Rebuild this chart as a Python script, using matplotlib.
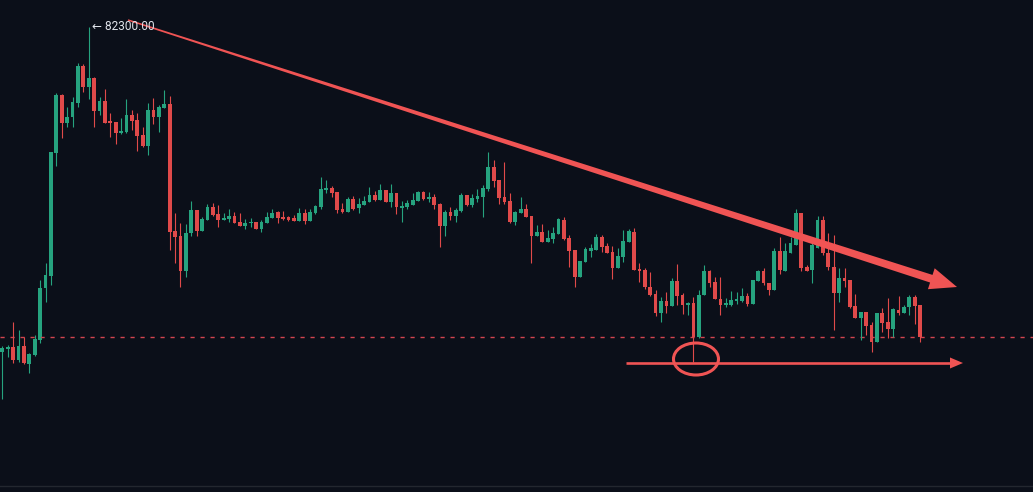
import numpy as np
import matplotlib
matplotlib.use('Agg')
import matplotlib.pyplot as plt
from matplotlib.patches import Polygon, Ellipse
from matplotlib.lines import Line2D

# OHLC (171 candles)
opens = [
    79050, 79080, 79100, 78970, 79110, 78930, 79020, 79170, 79690, 79810,
    81040, 81620, 81340, 81400, 81540, 81910, 81700, 81790, 81460, 81560,
    81360, 81350, 81240, 81250, 81420, 81370, 81220, 81110, 81470, 81400,
    81490, 81530, 80260, 80210, 79860, 80240, 80470, 80260, 80370, 80500,
    80430, 80370, 80380, 80410, 80350, 80310, 80340, 80350, 80280, 80340,
    80390, 80450, 80400, 80400, 80390, 80360, 80440, 80360, 80440, 80500,
    80670, 80690, 80650, 80480, 80450, 80580, 80490, 80520, 80550, 80620,
    80570, 80670, 80550, 80640, 80490, 80500, 80520, 80560, 80650, 80580,
    80600, 80530, 80310, 80450, 80410, 80460, 80620, 80520, 80580, 80600,
    80680, 80900, 80770, 80600, 80560, 80350, 80440, 80480, 80410, 80210,
    80250, 80150, 80180, 80230, 80370, 80190, 80070, 79800, 79950, 80060,
    80070, 80200, 80110, 80050, 79890, 80000, 80150, 80250, 79880, 79870,
    79700, 79630, 79440, 79560, 79510, 79760, 79620, 79520, 79540, 79200,
    79620, 79860, 79750, 79580, 79520, 79520, 79560, 79560, 79610, 79530,
    79760, 79860, 79740, 79670, 80060, 79860, 80040, 80120, 80440, 79900,
    79870, 80090, 80370, 80040, 79900, 79640, 79790, 79770, 79510, 79390,
    79450, 79320, 79150, 79440, 79350, 79280, 79470, 79440, 79500, 79600,
    79520,
]
highs = [
    79110, 79120, 79350, 79270, 79200, 79040, 79220, 79770, 79940, 81050,
    81640, 81630, 81500, 81600, 81940, 81930, 82300, 81800, 81600, 81680,
    81440, 81350, 81390, 81580, 81470, 81440, 81300, 81540, 81590, 81520,
    81670, 81610, 80440, 80340, 80330, 80560, 80470, 80400, 80530, 80540,
    80520, 80440, 80480, 80450, 80440, 80380, 80390, 80350, 80370, 80450,
    80480, 80460, 80460, 80410, 80420, 80490, 80480, 80480, 80520, 80800,
    80770, 80710, 80650, 80540, 80600, 80610, 80590, 80610, 80700, 80660,
    80730, 80670, 80730, 80640, 80560, 80570, 80640, 80660, 80660, 80650,
    80630, 80540, 80470, 80500, 80490, 80640, 80620, 80630, 80680, 80720,
    81050, 80970, 80770, 80950, 80640, 80460, 80600, 80530, 80410, 80320,
    80330, 80270, 80300, 80390, 80400, 80220, 80070, 79960, 80100, 80130,
    80230, 80220, 80140, 80110, 80090, 80270, 80280, 80290, 79940, 79890,
    79850, 79670, 79600, 79650, 79790, 79930, 79640, 79550, 79600, 79670,
    79920, 79870, 79800, 79800, 79590, 79660, 79650, 79690, 79640, 79770,
    79870, 79890, 79740, 80090, 80200, 80140, 80200, 80480, 80440, 79920,
    80170, 80410, 80410, 80240, 80220, 79890, 79890, 79770, 79630, 79450,
    79450, 79350, 79440, 79490, 79590, 79490, 79610, 79520, 79620, 79620,
    79520,
]
lows = [
    78580, 79000, 78940, 78950, 78930, 78840, 79010, 79140, 79550, 79720,
    80910, 81190, 81300, 81300, 81500, 81650, 81580, 81300, 81420, 81340,
    81200, 81130, 81230, 81240, 81270, 81060, 81100, 81020, 81330, 81250,
    81490, 80070, 79940, 79700, 79800, 80210, 80210, 80260, 80370, 80410,
    80300, 80370, 80350, 80340, 80310, 80280, 80300, 80280, 80250, 80340,
    80390, 80340, 80370, 80360, 80360, 80360, 80330, 80360, 80430, 80480,
    80640, 80600, 80440, 80440, 80450, 80470, 80440, 80520, 80550, 80560,
    80570, 80550, 80500, 80430, 80350, 80480, 80520, 80560, 80570, 80550,
    80480, 80100, 80210, 80370, 80350, 80450, 80510, 80500, 80550, 80400,
    80660, 80700, 80530, 80530, 80340, 80320, 80440, 80400, 79940, 80210,
    80150, 80150, 80140, 80230, 80170, 79900, 79700, 79800, 79950, 80000,
    80070, 80050, 80040, 79780, 79890, 79950, 80150, 79870, 79750, 79680,
    79610, 79410, 79350, 79440, 79510, 79520, 79430, 79420, 78950, 79190,
    79620, 79700, 79580, 79420, 79500, 79510, 79530, 79550, 79510, 79530,
    79760, 79720, 79620, 79670, 79830, 79860, 80040, 80120, 79860, 79860,
    79740, 80090, 80020, 79870, 79270, 79550, 79700, 79490, 79390, 79170,
    79220, 79050, 79150, 79250, 79190, 79200, 79420, 79440, 79420, 79330,
    79150,
]
closes = [
    79090, 79100, 78970, 79110, 78940, 79030, 79180, 79690, 79820, 81050,
    81620, 81340, 81400, 81550, 81910, 81700, 81790, 81460, 81560, 81340,
    81340, 81240, 81260, 81420, 81360, 81210, 81110, 81470, 81400, 81500,
    81530, 80250, 80200, 79860, 80240, 80470, 80260, 80380, 80500, 80420,
    80370, 80390, 80410, 80340, 80310, 80340, 80350, 80280, 80350, 80400,
    80440, 80390, 80380, 80370, 80360, 80440, 80360, 80450, 80510, 80680,
    80690, 80640, 80470, 80450, 80580, 80480, 80530, 80560, 80620, 80570,
    80670, 80550, 80640, 80500, 80510, 80540, 80570, 80650, 80580, 80600,
    80520, 80310, 80450, 80410, 80470, 80620, 80520, 80590, 80610, 80690,
    80900, 80760, 80590, 80550, 80350, 80450, 80480, 80400, 80210, 80250,
    80150, 80190, 80240, 80380, 80180, 80060, 79800, 79960, 80080, 80090,
    80200, 80100, 80040, 79890, 80010, 80160, 80260, 79870, 79860, 79700,
    79620, 79440, 79560, 79510, 79760, 79610, 79520, 79540, 79200, 79620,
    79860, 79740, 79580, 79520, 79540, 79570, 79580, 79610, 79530, 79770,
    79860, 79740, 79670, 80060, 79870, 80060, 80140, 80440, 79890, 79860,
    80120, 80370, 80040, 79900, 79640, 79790, 79760, 79500, 79390, 79450,
    79310, 79150, 79440, 79340, 79280, 79480, 79440, 79500, 79600, 79510,
    79200,
]
high_label = '← 82300.00'

BG = '#0b0f19'
UP = '#26a37f'
DOWN = '#e04a4a'
MARK = '#f05454'
W, H = 1033, 492

fig = plt.figure(figsize=(W / 100, H / 100), dpi=100, facecolor=BG)
ax = fig.add_axes([0, 0, 1, 1])
ax.set_facecolor(BG)
ax.axis('off')
ax.set_xlim(-0.43, 190.9)
ax.set_ylim(77650, 82570)

o = np.array(opens)
h = np.array(highs)
l = np.array(lows)
c = np.array(closes)
x = np.arange(len(o))
colors = [UP if cc >= oo else DOWN for oo, cc in zip(o, c)]

# wicks + bodies
ax.vlines(x, l, h, colors=colors, lw=0.8)
ax.bar(x, np.maximum(np.abs(c - o), 12), 0.7, np.minimum(o, c),
       color=colors, linewidth=0)

# last price line
ax.axhline(c[-1], color='#d2444f', lw=1.0, ls=(0, (3.0, 4.2)), zorder=1)


def to_data(px, py):
    # screen pixel (from top-left) -> data coords
    return ax.transData.inverted().transform((px, H - py))


# tapered trend arrow
p0 = np.array([128.0, 20.0])
tip = np.array([957.0, 287.0])
u = (tip - p0) / np.linalg.norm(tip - p0)
n = np.array([-u[1], u[0]])
base = tip - u * 27
pts = [p0 + n * 0.75, base + n * 4, base + n * 11, tip,
       base - n * 11, base - n * 4, p0 - n * 0.75]
ax.add_patch(Polygon([to_data(*p) for p in pts], closed=True,
                     color=MARK, lw=0, zorder=5))

# horizontal support arrow
a0 = to_data(626, 363)
a1 = to_data(952, 363)
ax.plot([a0[0], a1[0]], [a0[1], a1[1]], color=MARK, lw=1.9, zorder=5,
        solid_capstyle='butt')
head = [to_data(963, 363), to_data(950, 357.5), to_data(950, 368.5)]
ax.add_patch(Polygon(head, closed=True, color=MARK, lw=0, zorder=5))

# circle around the low
ec = to_data(696, 359)
ax.add_patch(Ellipse(ec, 45 / 5.4, 320, fill=False, ec=MARK, lw=2.2,
                     zorder=5))

# high label
tp = to_data(92, 26)
ax.text(tp[0], tp[1], high_label, color='#e0e3ea', fontsize=8.6,
        family=['Roboto', 'DejaVu Sans'], ha='left', va='center', zorder=6)

# bottom border
fig.add_artist(Line2D([0, 1], [1 - 486 / H] * 2, color='#23272f', lw=1,
                      transform=fig.transFigure))

fig.savefig('out.png', dpi=100, facecolor=BG)
